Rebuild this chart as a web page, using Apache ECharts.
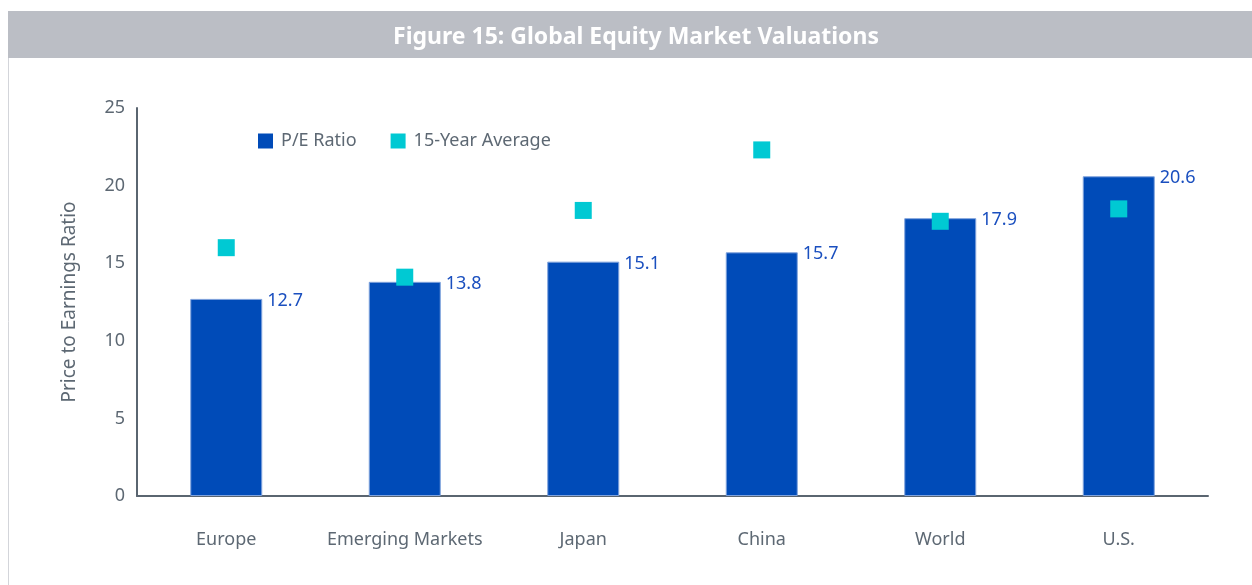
<!DOCTYPE html>
<html>
<head>
<meta charset="utf-8">
<script src="https://cdn.jsdelivr.net/npm/echarts@6/dist/echarts.min.js"></script>
<style>
html, body { margin: 0; padding: 0; background: #fff; }
#main { width: 1252px; height: 585px; }
</style>
</head>
<body>
<div id="main"></div>
<script>
var regions = ['Europe', 'Emerging Markets', 'Japan', 'China', 'World', 'U.S.'];
var peRatio = [12.7, 13.8, 15.1, 15.7, 17.9, 20.6];
var avg15 = [16.0, 14.1, 18.4, 22.3, 17.7, 18.5];
var yTicks = [0, 5, 10, 15, 20, 25];

var textGray = '#5d6873';
var font = 'Noto Sans';

var myChart = echarts.init(document.getElementById('main'));

var option = {
    animation: false,
    backgroundColor: '#fff',
    graphic: [
        {
            type: 'rect',
            shape: { x: 8, y: 11, width: 1244, height: 47 },
            style: { fill: '#bbbec5' },
            z: 0
        },
        {
            type: 'line',
            shape: { x1: 8.5, y1: 58, x2: 8.5, y2: 585 },
            style: { stroke: '#d3d5da', lineWidth: 1 }
        }
    ],
    title: {
        text: 'Figure 15: Global Equity Market Valuations',
        left: 631,
        top: 21,
        textAlign: 'center',
        textStyle: {
            color: '#fff',
            fontFamily: font,
            fontWeight: 'bold',
            fontSize: 23
        },
        z: 5
    },
    legend: {
        left: 253,
        top: 127,
        itemWidth: 15,
        itemHeight: 15,
        itemGap: 34,
        icon: 'rect',
        itemStyle: { borderWidth: 0 },
        textStyle: { color: textGray, fontFamily: font, fontSize: 18, padding: [0, 0, 0, 3] },
        data: ['P/E Ratio', '15-Year Average']
    },
    grid: {
        left: 137,
        top: 108,
        width: 1071,
        height: 388,
        containLabel: false
    },
    xAxis: {
        type: 'category',
        data: regions,
        axisLine: { lineStyle: { color: '#5a6570', width: 2 } },
        axisTick: { show: false },
        axisLabel: {
            interval: 0,
            color: textGray,
            fontFamily: font,
            fontSize: 18,
            margin: 35
        }
    },
    yAxis: {
        type: 'value',
        min: yTicks[0],
        max: yTicks[yTicks.length - 1],
        interval: 5,
        name: 'Price to Earnings Ratio',
        nameLocation: 'middle',
        nameGap: 58,
        nameTextStyle: { color: textGray, fontFamily: font, fontSize: 19 },
        splitLine: { show: false },
        axisTick: { show: false },
        axisLine: { show: true, lineStyle: { color: '#5a6570', width: 2 } },
        axisLabel: {
            color: textGray,
            fontFamily: font,
            fontSize: 18,
            margin: 12
        }
    },
    series: [
        {
            name: 'P/E Ratio',
            type: 'bar',
            data: peRatio,
            barWidth: 72,
            itemStyle: {
                color: '#004bb8',
                borderColor: '#7fa2dc',
                borderWidth: 1
            },
            label: {
                show: true,
                position: [77, 2],
                align: 'left',
                verticalAlign: 'middle',
                color: '#1a4fbf',
                fontFamily: font,
                fontSize: 18,
                formatter: function (p) { return p.value.toFixed(1); }
            }
        },
        {
            name: '15-Year Average',
            type: 'scatter',
            data: avg15,
            symbol: 'rect',
            symbolSize: 17,
            itemStyle: { color: '#00c9d3', opacity: 1 },
            z: 3
        }
    ]
};

myChart.setOption(option);
</script>
</body>
</html>
